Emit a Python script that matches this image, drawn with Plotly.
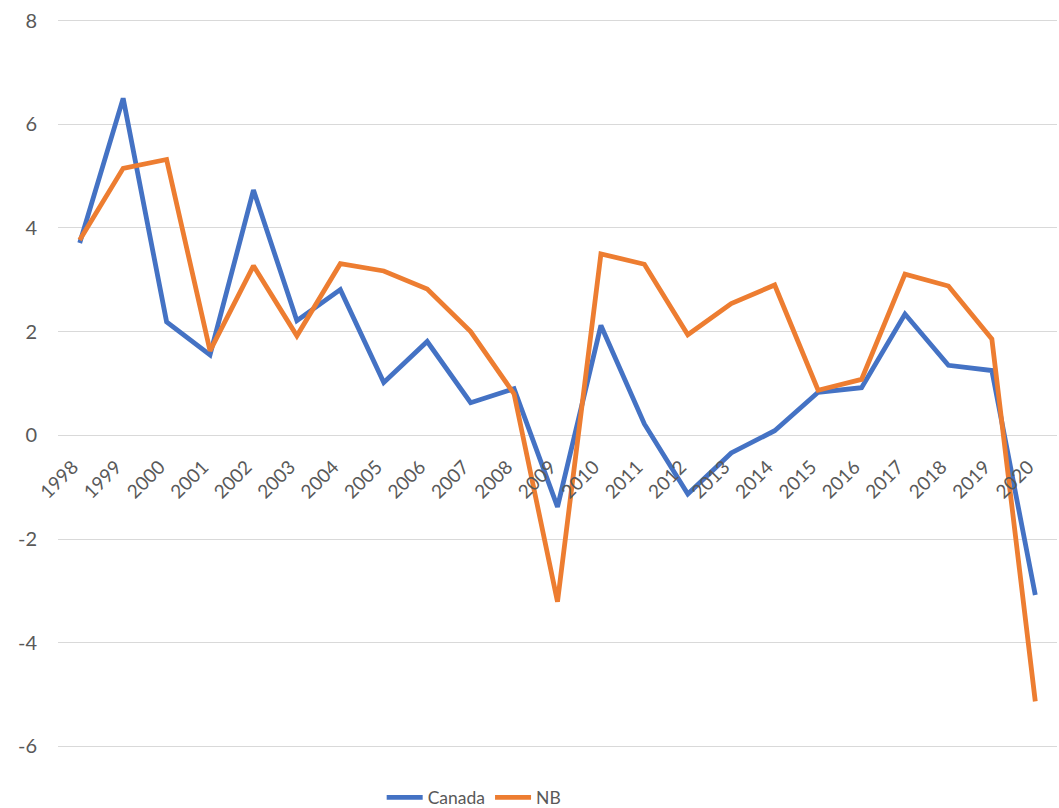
import plotly.graph_objects as go

years = [str(y) for y in range(1998, 2021)]
canada = [3.71, 6.5, 2.19, 1.55, 4.73, 2.21, 2.81, 1.02, 1.81, 0.63, 0.9, -1.38, 2.12,
          0.22, -1.13, -0.34, 0.09, 0.83, 0.92, 2.34, 1.35, 1.25, -3.08]
nb = [3.77, 5.15, 5.32, 1.63, 3.27, 1.92, 3.31, 3.17, 2.82, 2.0, 0.8, -3.21, 3.5,
      3.3, 1.94, 2.54, 2.9, 0.87, 1.08, 3.11, 2.88, 1.86, -5.13]
y_ticks = [-6, -4, -2, 0, 2, 4, 6, 8]
y_tick_text = ["-6", "-4", "-2", "0", "2", "4", "6", "8"]

pad = 0.03
y_min, y_max = -6 - pad, 8 + pad
font_family = "Lato, 'Open Sans', sans-serif"
text_color = "#595959"

fig = go.Figure()
fig.add_trace(go.Scatter(x=years, y=canada, name="Canada", mode="lines",
                         line=dict(color="#4472C4", width=4.8)))
fig.add_trace(go.Scatter(x=years, y=nb, name="NB", mode="lines",
                         line=dict(color="#ED7D31", width=4.8)))

fig.update_layout(
    width=1059, height=808,
    margin=dict(l=58, r=2, t=19, b=60, autoexpand=False),
    plot_bgcolor="white", paper_bgcolor="white",
    font=dict(family=font_family, size=20, color=text_color),
    showlegend=True,
    legend=dict(orientation="h", x=0.324, xanchor="left", y=-0.068, yanchor="middle",
                font=dict(family=font_family, size=17.5, color=text_color),
                itemwidth=36, tracegroupgap=0),
    xaxis=dict(
        type="category", range=[-0.5, len(years) - 0.5],
        anchor="free", position=(0 - y_min) / (y_max - y_min),
        showgrid=False, zeroline=False, showline=False, automargin=False,
        tickangle=-45, ticks="", tickfont=dict(size=19, color=text_color),
        ticklabelstandoff=16, ticklabelshift=-7,
    ),
    yaxis=dict(
        range=[y_min, y_max], tickmode="array", tickvals=y_ticks, ticktext=y_tick_text,
        showgrid=True, gridcolor="#D9D9D9", gridwidth=1.3, automargin=False,
        zeroline=False, showline=False, ticks="",
        tickfont=dict(size=20, color=text_color), ticklabelstandoff=20,
    ),
)

fig.write_html(
    "out.html",
    config={"displayModeBar": False},
    post_script="document.body.style.margin='0';document.body.style.overflow='hidden';",
)
